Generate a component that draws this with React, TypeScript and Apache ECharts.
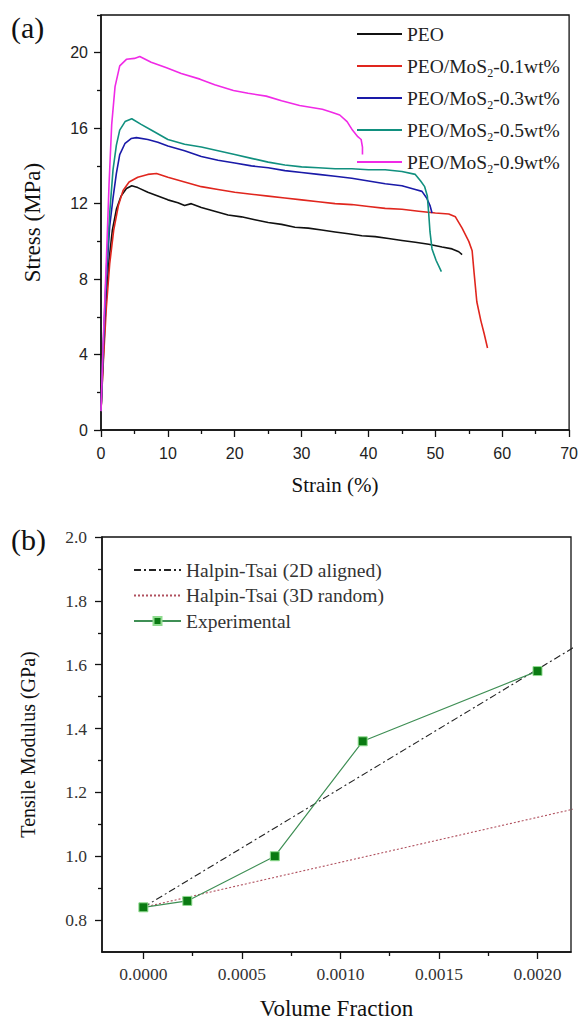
import React, { useEffect, useRef } from "react";
import * as echarts from "echarts";

// ---------- Panel (a): stress–strain curves [strain %, stress MPa] ----------
const seriesNamesA = [
  "PEO",
  "PEO/MoS2-0.1wt%",
  "PEO/MoS2-0.3wt%",
  "PEO/MoS2-0.5wt%",
  "PEO/MoS2-0.9wt%",
];
const seriesColorsA = ["#111111", "#e0261e", "#1a1aa8", "#11907f", "#f02ae6"];

const peoCurve = [
  [0, 1.0], [0.3, 3.5], [0.7, 6.5], [1.2, 9.0], [1.7, 10.6], [2.3, 11.7], [3.0, 12.4],
  [3.8, 12.8], [4.6, 12.95], [5.5, 12.85], [7, 12.6], [8.5, 12.4], [10, 12.2], [11.5, 12.05],
  [12.5, 11.9], [13.5, 12.0], [15, 11.8], [17, 11.6], [19, 11.4], [21, 11.3], [23, 11.15],
  [25, 11.0], [27, 10.9], [29, 10.75], [31, 10.7], [33, 10.6], [35, 10.5], [37, 10.4],
  [39, 10.3], [41, 10.25], [43, 10.15], [45, 10.05], [47, 9.95], [49, 9.85], [51, 9.7],
  [52.5, 9.6], [53.5, 9.45], [54, 9.3],
];
const mos01Curve = [
  [0, 1.0], [0.3, 3.3], [0.8, 6.5], [1.3, 8.8], [1.9, 10.6], [2.6, 11.9], [3.3, 12.7],
  [4.2, 13.15], [5.5, 13.4], [7, 13.55], [8.3, 13.6], [10, 13.4], [12.5, 13.15], [15, 12.9],
  [17.5, 12.75], [20, 12.6], [22.5, 12.5], [25, 12.4], [27.5, 12.3], [30, 12.2], [32.5, 12.1],
  [35, 12.0], [37.5, 11.95], [40, 11.85], [42.5, 11.75], [45, 11.7], [47.5, 11.6], [50, 11.5],
  [52, 11.45], [53, 11.3], [54, 10.7], [55, 10.0], [55.5, 9.5], [55.8, 8.3], [56.2, 6.8],
  [56.8, 5.8], [57.3, 5.1], [57.8, 4.35],
];
const mos03Curve = [
  [0, 1.0], [0.3, 4.0], [0.8, 8.0], [1.3, 10.8], [1.8, 12.3], [2.3, 13.6], [2.8, 14.6],
  [3.6, 15.2], [4.5, 15.45], [5.3, 15.5], [7, 15.4], [8.5, 15.25], [10, 15.05], [12.5, 14.8],
  [15, 14.5], [17.5, 14.3], [20, 14.15], [22.5, 14.0], [25, 13.9], [27.5, 13.75], [30, 13.65],
  [32.5, 13.55], [35, 13.45], [37.5, 13.35], [40, 13.2], [42.5, 13.05], [45, 12.95], [47, 12.75],
  [48, 12.65], [48.7, 12.3], [49.2, 11.9], [49.5, 11.5],
];
const mos05Curve = [
  [0, 1.0], [0.3, 4.2], [0.8, 8.5], [1.3, 11.5], [1.8, 13.8], [2.3, 15.1], [2.8, 15.9],
  [3.6, 16.35], [4.6, 16.5], [6, 16.2], [7.5, 15.9], [10, 15.4], [12.5, 15.15], [15, 15.0],
  [17.5, 14.8], [20, 14.6], [22.5, 14.4], [25, 14.2], [27.5, 14.05], [30, 13.95], [32.5, 13.9],
  [35, 13.85], [37.5, 13.85], [40, 13.8], [42.5, 13.8], [45, 13.7], [47, 13.55], [47.8, 13.2],
  [48.4, 12.9], [48.8, 12.4], [49, 11.5], [49.2, 10.5], [49.5, 9.6], [50.1, 9.0], [50.9, 8.4],
];
const mos09Curve = [
  [0, 1.0], [0.3, 4.4], [0.8, 9.0], [1.2, 13.0], [1.6, 16.2], [2.1, 18.2], [2.8, 19.3],
  [3.8, 19.65], [5, 19.7], [5.8, 19.8], [7.5, 19.5], [9.8, 19.2], [12, 18.9], [14.8, 18.6],
  [17, 18.3], [19.8, 18.0], [22, 17.85], [24.7, 17.7], [27, 17.45], [29.7, 17.2], [31.5, 17.1],
  [33.1, 17.0], [34.5, 16.85], [35.7, 16.7], [36.8, 16.35], [37.6, 15.9], [38.4, 15.55],
  [38.9, 15.4], [39.1, 15.0], [39.1, 14.6],
];
const curvesA = [peoCurve, mos01Curve, mos03Curve, mos05Curve, mos09Curve];

const strainTicks = [0, 10, 20, 30, 40, 50, 60, 70];
const strainMinorTicks = [5, 15, 25, 35, 45, 55, 65];
const stressTicks = [0, 4, 8, 12, 16, 20];
const stressMinorTicks = [2, 6, 10, 14, 18, 22];

// ---------- Panel (b): tensile modulus vs volume fraction ----------
const volumeFraction = [0, 0.000223, 0.000667, 0.001113, 0.002];
const modulusExp = [0.84, 0.86, 1.0, 1.36, 1.58];
const halpin2D = [[0, 0.84], [0.0022, 1.66]];
const halpin3D = [[0, 0.84], [0.0022, 1.15]];
const seriesNamesB = ["Halpin-Tsai (2D aligned)", "Halpin-Tsai (3D random)", "Experimental"];

const vfTicks = [0, 0.0005, 0.001, 0.0015, 0.002];
const vfMinorTicks = [0.00025, 0.00075, 0.00125, 0.00175];
const modTicks = [0.8, 1.0, 1.2, 1.4, 1.6, 1.8, 2.0];
const modMinorTicks = [0.9, 1.1, 1.3, 1.5, 1.7, 1.9];

const SERIF = "Liberation Serif";
const SANS = "Liberation Sans";

export default function App() {
  const ref = useRef<HTMLDivElement>(null);

  useEffect(() => {
    if (!ref.current) return;
    const chart = echarts.init(ref.current, null, { renderer: "svg" });

    const axisLine = { show: true, onZero: false, lineStyle: { color: "#111", width: 1.5 } };
    const tickStyle = { color: "#111", width: 1.3 };

    const mainX = (gridIndex: number, min: number, max: number, ticks: number[], opts: any) => ({
      type: "value",
      gridIndex,
      min,
      max,
      axisLine,
      splitLine: { show: false },
      axisTick: { show: true, length: 7, lineStyle: tickStyle, customValues: ticks },
      ...opts,
    });
    const minorAxis = (gridIndex: number, min: number, max: number, ticks: number[], position: string) => ({
      type: "value",
      gridIndex,
      min,
      max,
      position,
      axisLine: { show: false, onZero: false },
      splitLine: { show: false },
      axisLabel: { show: false },
      axisTick: { show: true, length: 4, lineStyle: tickStyle, customValues: ticks },
    });

    const subName = (n: string) => n.replace("MoS2", "MoS{sub|2}");
    const hidden = { color: "rgba(0,0,0,0)", borderWidth: 0 };

    const option: any = {
      animation: false,
      backgroundColor: "#fff",
      graphic: [
        { type: "text", left: 11, top: 12, style: { text: "(a)", fontSize: 30, fontFamily: SERIF, fill: "#111" } },
        { type: "text", left: 11, top: 524, style: { text: "(b)", fontSize: 30, fontFamily: SERIF, fill: "#111" } },
      ],
      grid: [
        { left: 101, top: 15, width: 469, height: 415, show: true, borderColor: "#111", borderWidth: 1.3 },
        { left: 102, top: 537, width: 469, height: 416, show: true, borderColor: "#111", borderWidth: 1.3 },
      ],
      legend: [
        {
          orient: "vertical",
          left: 352,
          top: 16,
          itemWidth: 45,
          itemHeight: 14,
          itemGap: 6,
          data: seriesNamesA,
          icon: "path://M0,6L45,6L45,8L0,8Z",
          formatter: (n: string) => subName(n),
          textStyle: {
            fontFamily: SERIF,
            fontSize: 19.5,
            color: "#222",
            lineHeight: 26,
            rich: {
              sub: { fontFamily: SERIF, fontSize: 12, color: "#222", verticalAlign: "bottom", lineHeight: 26 },
            },
          },
        },
        {
          orient: "vertical",
          left: 128,
          top: 555,
          itemWidth: 47,
          itemHeight: 10,
          itemGap: 5.5,
          data: [
            { name: seriesNamesB[0], itemStyle: hidden },
            { name: seriesNamesB[1], itemStyle: hidden },
            { name: seriesNamesB[2] },
          ],
          textStyle: { fontFamily: SERIF, fontSize: 19.5, color: "#333", lineHeight: 20 },
        },
      ],
      xAxis: [
        mainX(0, 0, 70, strainTicks, {
          name: "Strain (%)",
          nameLocation: "middle",
          nameGap: 44,
          nameTextStyle: { fontFamily: SERIF, fontSize: 21, color: "#111" },
          axisLabel: { customValues: strainTicks, margin: 15, fontFamily: SANS, fontSize: 16, color: "#222" },
        }),
        minorAxis(0, 0, 70, strainMinorTicks, "bottom"),
        mainX(1, -0.00021, 0.00217, vfTicks, {
          name: "Volume Fraction",
          nameLocation: "middle",
          nameGap: 45,
          nameTextStyle: { fontFamily: SERIF, fontSize: 23, color: "#111" },
          axisLabel: {
            customValues: vfTicks,
            margin: 13,
            fontFamily: SERIF,
            fontSize: 17.5,
            color: "#333",
            formatter: (v: number) => v.toFixed(4),
          },
        }),
        minorAxis(1, -0.00021, 0.00217, vfMinorTicks, "bottom"),
      ],
      yAxis: [
        mainX(0, 0, 22, stressTicks, {
          name: "Stress (MPa)",
          nameLocation: "middle",
          nameGap: 57,
          nameTextStyle: { fontFamily: SERIF, fontSize: 23, color: "#111" },
          axisLabel: { customValues: stressTicks, margin: 13, fontFamily: SANS, fontSize: 16, color: "#222" },
        }),
        minorAxis(0, 0, 22, stressMinorTicks, "left"),
        mainX(1, 0.7, 2.0, modTicks, {
          name: "Tensile Modulus (GPa)",
          nameLocation: "middle",
          nameGap: 64,
          nameTextStyle: { fontFamily: SERIF, fontSize: 20, color: "#111" },
          axisLabel: {
            customValues: modTicks,
            margin: 15,
            fontFamily: SERIF,
            fontSize: 17.5,
            color: "#333",
            formatter: (v: number) => v.toFixed(1),
          },
        }),
        minorAxis(1, 0.7, 2.0, modMinorTicks, "left"),
      ],
      series: [
        ...curvesA.map((d, i) => ({
          type: "line",
          name: seriesNamesA[i],
          xAxisIndex: 0,
          yAxisIndex: 0,
          data: d,
          symbol: "none",
          smooth: false,
          lineStyle: { color: seriesColorsA[i], width: 1.6 },
          itemStyle: { color: seriesColorsA[i] },
          z: 3 + i,
        })),
        {
          type: "line",
          name: seriesNamesB[0],
          xAxisIndex: 2,
          yAxisIndex: 2,
          data: halpin2D,
          symbol: "none",
          lineStyle: { color: "#222", width: 1.1, type: [7, 3, 2, 3] },
          itemStyle: { color: "#222" },
        },
        {
          type: "line",
          name: seriesNamesB[1],
          xAxisIndex: 2,
          yAxisIndex: 2,
          data: halpin3D,
          symbol: "none",
          lineStyle: { color: "#b0505e", width: 1.1, type: [2, 2] },
          itemStyle: { color: "#b0505e" },
        },
        {
          type: "line",
          name: seriesNamesB[2],
          xAxisIndex: 2,
          yAxisIndex: 2,
          data: volumeFraction.map((v, i) => [v, modulusExp[i]]),
          symbol: "rect",
          symbolSize: 9,
          lineStyle: { color: "#3f8f55", width: 1.2 },
          itemStyle: { color: "#0a7a12", borderColor: "#8fdc8f", borderWidth: 1 },
          z: 5,
        },
      ],
    };

    chart.setOption(option);
    return () => chart.dispose();
  }, []);

  return (
    <div
      ref={ref}
      style={{ position: "absolute", left: 0, top: 0, width: 581, height: 1021, background: "#fff" }}
    />
  );
}
